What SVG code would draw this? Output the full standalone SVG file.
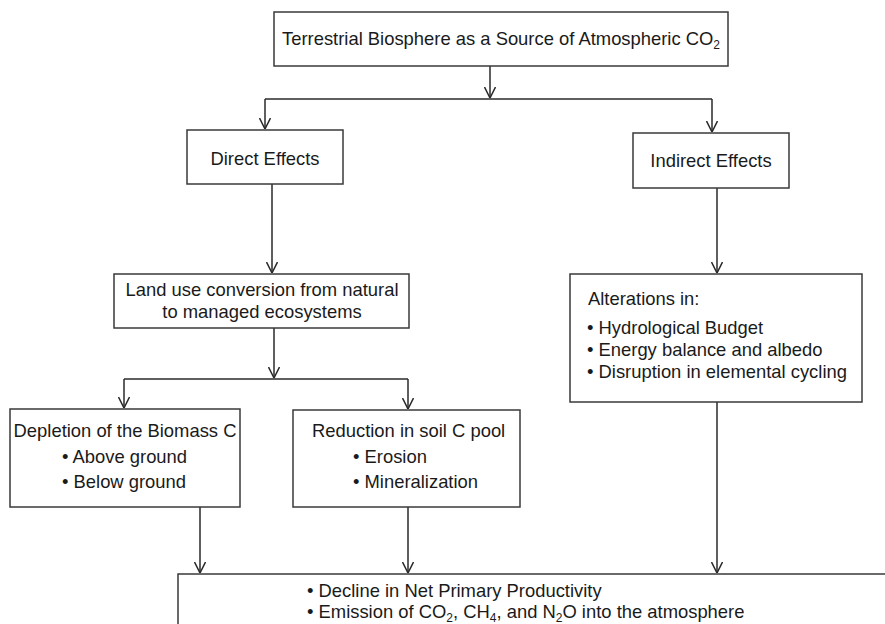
<svg xmlns="http://www.w3.org/2000/svg" width="885" height="624" viewBox="0 0 885 624">
<defs>
<style>
.box{fill:#fff;stroke:#3a3a3a;stroke-width:1.5}
.t{font-family:"Liberation Sans",Arial,Helvetica,sans-serif;font-size:18.4px;fill:#1a1a1a}
.c{text-anchor:middle}
.ln{fill:none;stroke:#2a2a2a;stroke-width:1.5}
.ar{marker-end:url(#arr)}
</style>
<marker id="arr" viewBox="0 0 11 12" refX="11" refY="6" markerWidth="11" markerHeight="12" markerUnits="userSpaceOnUse" orient="auto">
<path d="M0,0.5 L11,6 L0,11.5" fill="none" stroke="#2a2a2a" stroke-width="1.5"/>
</marker>
</defs>
<rect width="885" height="624" fill="#fff"/>
<g id="connectors">
<path class="ln ar" d="M490,66 V98"/>
<path class="ln" d="M265,99 H712"/>
<path class="ln ar" d="M265,99 V129"/>
<path class="ln ar" d="M712,99 V132"/>
<path class="ln ar" d="M272,184 V273"/>
<path class="ln ar" d="M274,328 V378"/>
<path class="ln" d="M124,379 H408"/>
<path class="ln ar" d="M124,379 V408"/>
<path class="ln ar" d="M408,379 V409"/>
<path class="ln ar" d="M717,188 V273"/>
<path class="ln ar" d="M200,507 V573"/>
<path class="ln ar" d="M408,507 V573"/>
<path class="ln ar" d="M717,402 V573"/>
</g>
<g id="title">
<rect class="box" x="274" y="12" width="454" height="54"/>
<text class="t" x="282" y="45">Terrestrial Biosphere as a Source of Atmospheric CO<tspan dy="4" font-size="12">2</tspan></text>
</g>
<g id="direct">
<rect class="box" x="187" y="130" width="156" height="54"/>
<text class="t c" x="265" y="165">Direct Effects</text>
</g>
<g id="indirect">
<rect class="box" x="633" y="133" width="156" height="55"/>
<text class="t c" x="711" y="167">Indirect Effects</text>
</g>
<g id="landuse">
<rect class="box" x="114" y="274" width="295" height="54"/>
<text class="t c" x="262" y="296">Land use conversion from natural</text>
<text class="t c" x="262" y="318">to managed ecosystems</text>
</g>
<g id="alterations">
<rect class="box" x="570" y="274" width="292" height="128"/>
<text class="t" x="588" y="305">Alterations in:</text>
<text class="t" x="587" y="334">• Hydrological Budget</text>
<text class="t" x="587" y="356">• Energy balance and albedo</text>
<text class="t" x="587" y="378">• Disruption in elemental cycling</text>
</g>
<g id="depletion">
<rect class="box" x="10" y="409" width="230" height="98"/>
<text class="t c" x="125" y="437">Depletion of the Biomass C</text>
<text class="t" x="62" y="463">• Above ground</text>
<text class="t" x="62" y="488">• Below ground</text>
</g>
<g id="reduction">
<rect class="box" x="293" y="410" width="227" height="97"/>
<text class="t" x="312" y="437">Reduction in soil C pool</text>
<text class="t" x="353" y="463">• Erosion</text>
<text class="t" x="353" y="488">• Mineralization</text>
</g>
<g id="outcome">
<path class="box" d="M885,574 H178 V630"/>
<text class="t" x="307" y="597">• Decline in Net Primary Productivity</text>
<text class="t" x="307" y="618">• Emission of CO<tspan dy="4" font-size="12">2</tspan><tspan dy="-4">, CH</tspan><tspan dy="4" font-size="12">4</tspan><tspan dy="-4">, and N</tspan><tspan dy="4" font-size="12">2</tspan><tspan dy="-4">O into the atmosphere</tspan></text>
</g>
</svg>
